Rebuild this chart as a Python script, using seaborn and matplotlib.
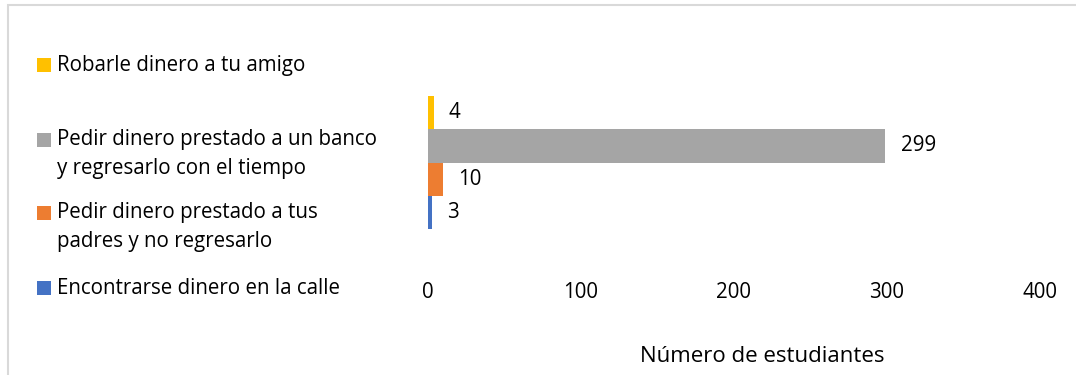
import textwrap

import matplotlib
matplotlib.use("Agg")
import matplotlib.pyplot as plt
from matplotlib.patches import Rectangle
import pandas as pd
import seaborn as sns

# Survey answers: how students would prefer to get money
series = [
    "Robarle dinero a tu amigo",
    "Pedir dinero prestado a un banco y regresarlo con el tiempo",
    "Pedir dinero prestado a tus padres y no regresarlo",
    "Encontrarse dinero en la calle",
]
values = [4, 299, 10, 3]
colors = ["#FFC000", "#A5A5A5", "#ED7D31", "#4472C4"]
x_ticks = [0, 100, 200, 300, 400]
x_label = "Número de estudiantes"

sns.set_theme(style="white")
plt.rcParams["font.family"] = ["Open Sans", "DejaVu Sans"]

df = pd.DataFrame({
    "grupo": ["respuestas"] * len(series),
    "serie": series,
    "estudiantes": values,
})

W, H = 1076, 375
fs = 14.8
fig = plt.figure(figsize=(W / 100, H / 100), dpi=100)

# plot area in pixel terms
left_px, right_px, top_px, bottom_px = 427.5, 1040, 50, 275
ax = fig.add_axes([left_px / W, 1 - bottom_px / H,
                   (right_px - left_px) / W, (bottom_px - top_px) / H])

sns.barplot(data=df, x="estudiantes", y="grupo", hue="serie",
            hue_order=series, palette=colors, orient="h", width=0.587,
            saturation=1, legend=False, linewidth=0, ax=ax)

for container in ax.containers:
    ax.bar_label(container, padding=11, fontsize=fs, color="#000000")

ax.set_xlim(x_ticks[0], x_ticks[-1])
ax.set_ylim(0.5, -0.5)
ax.set_xticks(x_ticks)
ax.set_yticks([])
ax.set_ylabel("")
ax.tick_params(axis="x", length=0, labelsize=fs, pad=5, labelcolor="#000000")
for s in ax.spines.values():
    s.set_visible(False)

ax.set_xlabel(x_label, fontsize=16, color="#000000")
ax.xaxis.label.set_va("center")
ax.xaxis.set_label_coords((762 - left_px) / (right_px - left_px),
                          -(357 - bottom_px) / (bottom_px - top_px))

# legend on the left, one square per series, aligned with the first text line
first_line_y = [65, 140, 213, 288]
line_gap = 28.5
sq = 14
for name, color, y0 in zip(series, colors, first_line_y):
    fig.patches.append(Rectangle((37 / W, 1 - (y0 + sq / 2) / H), sq / W, sq / H,
                                 transform=fig.transFigure, facecolor=color,
                                 edgecolor="none"))
    for i, line in enumerate(textwrap.wrap(name, 32)):
        fig.text(57 / W, 1 - (y0 + i * line_gap) / H, line, fontsize=fs,
                 ha="left", va="center", color="#000000")

# chart frame (only the top and left edges fall inside the image)
fig.patches.append(Rectangle((8 / W, -0.5), 2, 1 - 5 / H + 0.5,
                             transform=fig.transFigure, fill=False,
                             edgecolor="#D9D9D9", linewidth=1.5))

fig.savefig("out.png", dpi=100)
